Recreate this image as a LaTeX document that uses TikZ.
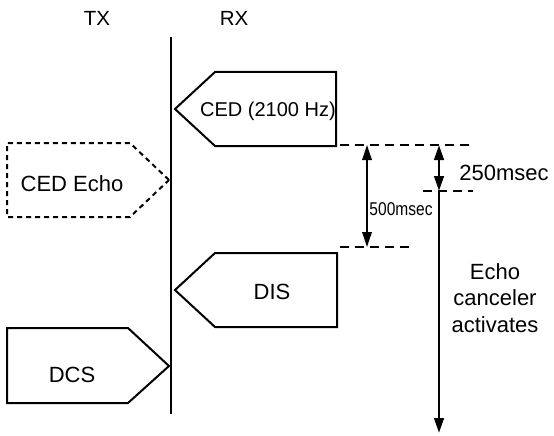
\documentclass[tikz,border=0pt]{standalone}
\usepackage{fontspec}
\setmainfont{Liberation Sans}
\usetikzlibrary{arrows.meta}
\begin{document}
\begin{tikzpicture}[x=1pt,y=-1pt,
  lbl/.style={inner sep=0pt,anchor=base,font=\fontsize{22}{26}\selectfont},
  sig/.style={draw=black,line width=2pt,line join=miter},
  echo/.style={draw=black,line width=2pt,dash pattern=on 5pt off 4pt},
  guide/.style={draw=black,line width=1.8pt,dash pattern=on 9pt off 6pt},
  tip/.tip={Triangle[length=15pt,width=9.5pt]},
  dim/.style={line width=1.8pt,tip-tip},
  dimthick/.style={line width=2.8pt,tip-tip},
  arr/.style={line width=2.8pt,-tip}]
\useasboundingbox (0,0) rectangle (554,436);
% labels
\node[lbl,font=\fontsize{20.5}{24}\selectfont] (tx) at (97,26) {TX};
\node[lbl,font=\fontsize{20.5}{24}\selectfont] (rx) at (234,26) {RX};
% time line
\coordinate (vtop) at (171,37);
\coordinate (vbot) at (171,414);
\draw[line width=2pt] (vtop) -- (vbot);
% CED
\draw[sig] (175,109) -- (215,72) -- (336,72) -- (336,146) -- (215,146) -- cycle;
\node[lbl,font=\fontsize{20}{24}\selectfont] (ced) at (268,116) {CED (2100 Hz)};
% CED Echo
\draw[echo] (169,180) -- (130,143) -- (7,143) -- (7,217) -- (130,217) -- cycle;
\node[lbl] (cedecho) at (72,191) {CED Echo};
% DIS
\draw[sig] (175,290) -- (215,253) -- (337,253) -- (337,327) -- (215,327) -- cycle;
\node[lbl] (dis) at (272,299) {DIS};
% DCS
\draw[sig] (169,366) -- (128,328) -- (7,328) -- (7,403) -- (128,403) -- cycle;
\node[lbl] (dcs) at (72,382) {DCS};
% guide lines
\coordinate (g1a) at (340,145); \coordinate (g1b) at (470,145);
\coordinate (g2a) at (423,191); \coordinate (g2b) at (473,191);
\coordinate (g3a) at (340,247); \coordinate (g3b) at (410,247);
\draw[guide] (g1a) -- (g1b);
\draw[guide] (g2a) -- (g2b);
\draw[guide] (g3a) -- (g3b);
% dimensions
\coordinate (a5t) at (367,145); \coordinate (a5b) at (367,247);
\draw[dim] (a5t) -- (a5b);
\node[lbl,font=\fontsize{18.5}{20}\selectfont] (t500) at (401,215) {\scalebox{0.84}[1]{500msec}};
\coordinate (a2t) at (439,145); \coordinate (a2b) at (439,191); \coordinate (a2e) at (439,433);
\draw[dimthick] (a2t) -- (a2b);
\draw[arr] (a2b) -- (a2e);
\node[lbl] (t250) at (504,180) {250msec};
\node[inner sep=0pt,align=center,font=\fontsize{22}{26.5}\selectfont] (eca) at (495,298) {Echo\\canceler\\activates};
\end{tikzpicture}
\end{document}
